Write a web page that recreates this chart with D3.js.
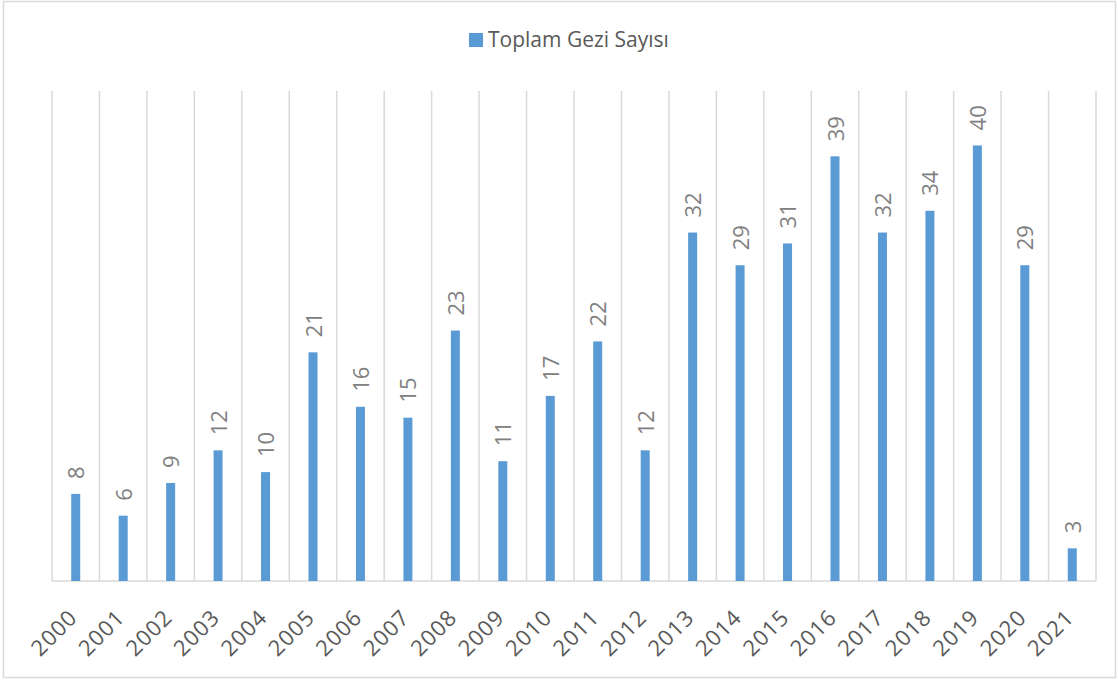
<!DOCTYPE html>
<html><head><meta charset="utf-8">
<script src="https://cdn.jsdelivr.net/npm/d3@7"></script>
<style>html,body{margin:0;padding:0;background:#fff;}svg{display:block;}</style>
</head><body>
<svg id="c" width="1118" height="681"></svg>
<script>
const years = ["2000","2001","2002","2003","2004","2005","2006","2007","2008","2009","2010","2011","2012","2013","2014","2015","2016","2017","2018","2019","2020","2021"];
const values = [8,6,9,12,10,21,16,15,23,11,17,22,12,32,29,31,39,32,34,40,29,3];
const seriesName = "Toplam Gezi Sayısı";
const yMax = 45;

(function(){
const svg = d3.select("#c");
const font = "Open Sans, Liberation Sans, sans-serif";
const pLeft = 52, pRight = 1096, pTop = 91, pBottom = 581;

svg.append("rect").attr("x",3.5).attr("y",1.5).attr("width",1112).attr("height",676)
  .attr("fill","#fff").attr("stroke","#d9d9d9").attr("stroke-width",1.5);

const x = d3.scaleBand().domain(years).range([pLeft,pRight]).paddingInner(0).paddingOuter(0);
const y = d3.scaleLinear().domain([0,yMax]).range([pBottom,pTop]);

const bounds = years.map(d=>x(d)).concat([pRight]);
svg.append("g").selectAll("line").data(bounds).join("line")
  .attr("x1",d=>d).attr("x2",d=>d).attr("y1",pTop).attr("y2",pBottom)
  .attr("stroke","#d9d9d9").attr("stroke-width",1.5);

svg.append("line").attr("x1",pLeft).attr("x2",pRight).attr("y1",pBottom).attr("y2",pBottom)
  .attr("stroke","#d9d9d9").attr("stroke-width",1.5);

const bw = 9;
svg.append("g").selectAll("rect").data(values).join("rect")
  .attr("x",(d,i)=>x(years[i])+x.bandwidth()/2-bw/2)
  .attr("width",bw)
  .attr("y",d=>y(d))
  .attr("height",d=>pBottom-y(d))
  .attr("fill","#5b9bd5");

svg.append("g").selectAll("text").data(values).join("text")
  .attr("transform",(d,i)=>`translate(${x(years[i])+x.bandwidth()/2+8.5},${y(d)-15}) rotate(-90)`)
  .attr("text-anchor","start")
  .attr("font-family",font).attr("font-size",22).attr("fill","#808080")
  .text(d=>d);

const xAxis = d3.axisBottom(x).tickSize(0).tickPadding(0);
const gx = svg.append("g").attr("transform",`translate(0,${pBottom})`).call(xAxis);
gx.select(".domain").remove();
gx.selectAll("text")
  .attr("font-family",font).attr("font-size",22).attr("fill","#595959")
  .attr("letter-spacing","1px")
  .attr("text-anchor","end").attr("dy",null).attr("y",0)
  .attr("transform","translate(3,38) rotate(-45)");

const lg = svg.append("g");
lg.append("rect").attr("x",469).attr("y",33).attr("width",14).attr("height",14).attr("fill","#5b9bd5");
lg.append("text").attr("x",488).attr("y",46.5).attr("font-family",font).attr("font-size",21)
  .attr("fill","#595959").text(seriesName);
})();
</script>
</body></html>
